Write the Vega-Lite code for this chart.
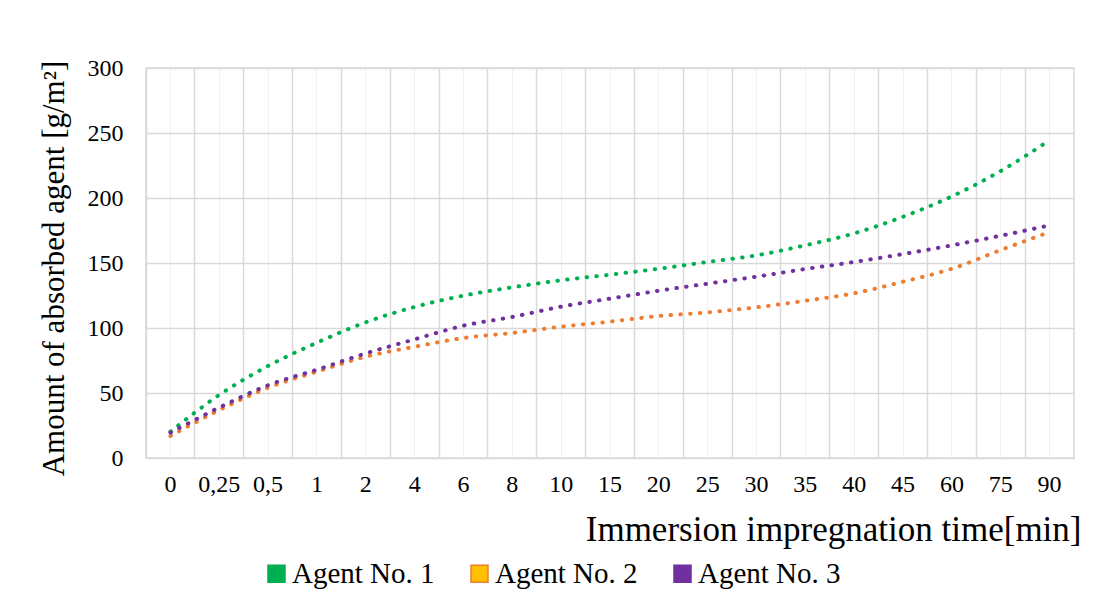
{
  "$schema": "https://vega.github.io/schema/vega-lite/v6.json",
  "width": 928,
  "height": 390,
  "autosize": {"type": "none"},
  "padding": {"left": 146, "top": 68, "right": 20, "bottom": 144},
  "background": "white",
  "config": {
    "view": {"stroke": "#d9d9d9", "strokeWidth": 1.5},
    "font": "Liberation Serif"
  },
  "data": {
    "values": [
      {"time": "0", "agent": "Agent No. 1", "value": 20.3},
      {"time": "0,25", "agent": "Agent No. 1", "value": 48.5},
      {"time": "0,5", "agent": "Agent No. 1", "value": 70.8},
      {"time": "1", "agent": "Agent No. 1", "value": 88.7},
      {"time": "2", "agent": "Agent No. 1", "value": 104.4},
      {"time": "4", "agent": "Agent No. 1", "value": 116.2},
      {"time": "6", "agent": "Agent No. 1", "value": 124.9},
      {"time": "8", "agent": "Agent No. 1", "value": 131.3},
      {"time": "10", "agent": "Agent No. 1", "value": 136.7},
      {"time": "15", "agent": "Agent No. 1", "value": 141.0},
      {"time": "20", "agent": "Agent No. 1", "value": 145.6},
      {"time": "25", "agent": "Agent No. 1", "value": 150.8},
      {"time": "30", "agent": "Agent No. 1", "value": 155.9},
      {"time": "35", "agent": "Agent No. 1", "value": 163.6},
      {"time": "40", "agent": "Agent No. 1", "value": 172.8},
      {"time": "45", "agent": "Agent No. 1", "value": 185.6},
      {"time": "60", "agent": "Agent No. 1", "value": 201.3},
      {"time": "75", "agent": "Agent No. 1", "value": 220.8},
      {"time": "90", "agent": "Agent No. 1", "value": 244.4},
      {"time": "0", "agent": "Agent No. 2", "value": 16.9},
      {"time": "0,25", "agent": "Agent No. 2", "value": 36.9},
      {"time": "0,5", "agent": "Agent No. 2", "value": 54.1},
      {"time": "1", "agent": "Agent No. 2", "value": 66.4},
      {"time": "2", "agent": "Agent No. 2", "value": 77.9},
      {"time": "4", "agent": "Agent No. 2", "value": 85.6},
      {"time": "6", "agent": "Agent No. 2", "value": 92.3},
      {"time": "8", "agent": "Agent No. 2", "value": 96.2},
      {"time": "10", "agent": "Agent No. 2", "value": 101.0},
      {"time": "15", "agent": "Agent No. 2", "value": 104.9},
      {"time": "20", "agent": "Agent No. 2", "value": 109.2},
      {"time": "25", "agent": "Agent No. 2", "value": 112.0},
      {"time": "30", "agent": "Agent No. 2", "value": 115.9},
      {"time": "35", "agent": "Agent No. 2", "value": 121.0},
      {"time": "40", "agent": "Agent No. 2", "value": 126.7},
      {"time": "45", "agent": "Agent No. 2", "value": 135.6},
      {"time": "60", "agent": "Agent No. 2", "value": 145.6},
      {"time": "75", "agent": "Agent No. 2", "value": 160.0},
      {"time": "90", "agent": "Agent No. 2", "value": 173.8},
      {"time": "0", "agent": "Agent No. 3", "value": 19.5},
      {"time": "0,25", "agent": "Agent No. 3", "value": 38.8},
      {"time": "0,5", "agent": "Agent No. 3", "value": 56.0},
      {"time": "1", "agent": "Agent No. 3", "value": 67.9},
      {"time": "2", "agent": "Agent No. 3", "value": 80.5},
      {"time": "4", "agent": "Agent No. 3", "value": 91.3},
      {"time": "6", "agent": "Agent No. 3", "value": 101.8},
      {"time": "8", "agent": "Agent No. 3", "value": 108.5},
      {"time": "10", "agent": "Agent No. 3", "value": 116.4},
      {"time": "15", "agent": "Agent No. 3", "value": 122.6},
      {"time": "20", "agent": "Agent No. 3", "value": 128.7},
      {"time": "25", "agent": "Agent No. 3", "value": 134.1},
      {"time": "30", "agent": "Agent No. 3", "value": 139.5},
      {"time": "35", "agent": "Agent No. 3", "value": 145.4},
      {"time": "40", "agent": "Agent No. 3", "value": 150.8},
      {"time": "45", "agent": "Agent No. 3", "value": 156.9},
      {"time": "60", "agent": "Agent No. 3", "value": 163.6},
      {"time": "75", "agent": "Agent No. 3", "value": 171.0},
      {"time": "90", "agent": "Agent No. 3", "value": 179.0}
    ]
  },
  "resolve": {"axis": {"x": "independent"}},
  "layer": [
    {
      "mark": {"type": "point", "shape": "square", "filled": true, "opacity": 0, "stroke": "#1f3864", "strokeWidth": 1.5},
      "encoding": {
        "x": {
          "field": "time", "type": "ordinal", "sort": null,
          "scale": {"type": "band", "paddingInner": 0, "paddingOuter": 0},
          "axis": {
            "orient": "top", "bandPosition": 0, "grid": true, "gridColor": "#d9d9d9", "gridWidth": 1.5,
            "labels": false, "ticks": false, "domain": false, "title": null
          }
        },
        "y": {
          "field": "value", "type": "quantitative", "scale": {"domain": [0, 300]},
          "axis": {
            "values": [0, 50, 100, 150, 200, 250, 300],
            "grid": true, "gridColor": "#d9d9d9", "gridWidth": 1.5,
            "ticks": false, "domain": false,
            "labelFont": "Liberation Serif", "labelFontSize": 24, "labelColor": "#000000", "labelPadding": 23,
            "title": "Amount of absorbed agent [g/m²]",
            "titleFont": "Liberation Serif", "titleFontSize": 31, "titleFontWeight": "normal", "titleColor": "#000000",
            "titleAngle": 270, "titleAlign": "center", "titleBaseline": "middle", "titleAnchor": null,
            "titleX": -92, "titleY": 200
          }
        },
        "fill": {
          "field": "agent", "type": "nominal",
          "scale": {"domain": ["Agent No. 1", "Agent No. 2", "Agent No. 3"], "range": ["#00B050", "#FFC000", "#7030A0"]},
          "legend": {
            "orient": "none", "direction": "horizontal", "title": null,
            "legendX": 116, "legendY": 491,
            "symbolType": "square", "symbolSize": 289, "symbolOpacity": 1,
            "symbolStrokeColor": "#1f3864", "symbolStrokeWidth": 1.5,
            "labelFont": "Liberation Serif", "labelFontSize": 29, "labelColor": "#000000",
            "labelOffset": 1, "labelLimit": 300, "columnPadding": 30,
            "encode": {"symbols": {"update": {"stroke": {"value": "#1f3864"}, "strokeWidth": {"value": 1.5}, "opacity": {"value": 1}}}}
          }
        }
      }
    },
    {
      "mark": {"type": "line", "strokeWidth": 4, "strokeDash": [0.5, 9.3], "strokeCap": "round", "interpolate": "monotone"},
      "encoding": {
        "x": {
          "field": "time", "type": "ordinal", "sort": null,
          "scale": {"type": "band", "paddingInner": 0, "paddingOuter": 0},
          "axis": {
            "orient": "bottom", "grid": true, "gridColor": "#f0f0f0", "gridWidth": 1.2,
            "ticks": false, "domain": false, "labelAngle": 0,
            "labelFont": "Liberation Serif", "labelFontSize": 24, "labelColor": "#000000", "labelPadding": 14,
            "title": "Immersion impregnation time[min]",
            "titleFont": "Liberation Serif", "titleFontSize": 35, "titleFontWeight": "normal", "titleColor": "#000000",
            "titleAlign": "right", "titleAnchor": null, "titleX": 935, "titleY": 82, "titleBaseline": "alphabetic"
          }
        },
        "y": {
          "field": "value", "type": "quantitative", "scale": {"domain": [0, 300]},
          "axis": {
            "values": [0, 50, 100, 150, 200, 250, 300],
            "grid": true, "gridColor": "#d9d9d9", "gridWidth": 1.5,
            "ticks": false, "domain": false,
            "labelFont": "Liberation Serif", "labelFontSize": 24, "labelColor": "#000000", "labelPadding": 23,
            "title": "Amount of absorbed agent [g/m²]",
            "titleFont": "Liberation Serif", "titleFontSize": 31, "titleFontWeight": "normal", "titleColor": "#000000",
            "titleAngle": 270, "titleAlign": "center", "titleBaseline": "middle", "titleAnchor": null,
            "titleX": -92, "titleY": 200
          }
        },
        "stroke": {
          "field": "agent", "type": "nominal",
          "scale": {"domain": ["Agent No. 1", "Agent No. 2", "Agent No. 3"], "range": ["#00B050", "#ED7D31", "#7030A0"]},
          "legend": null
        }
      }
    }
  ]
}
